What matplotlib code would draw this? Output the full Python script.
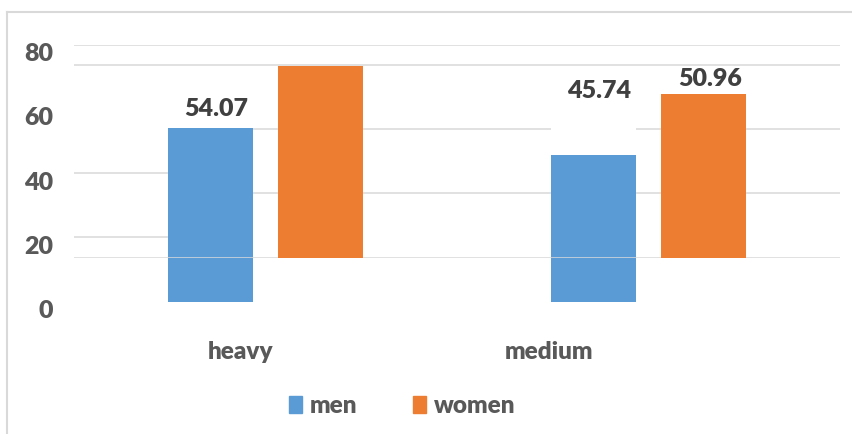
import matplotlib
matplotlib.use("Agg")
import matplotlib.pyplot as plt
import matplotlib.transforms as mtransforms
from matplotlib.lines import Line2D
from matplotlib.patches import Patch

categories = ["heavy", "medium"]
men = [54.07, 45.74]
women = [59.65, 50.96]
men_labels = ["54.07", "45.74"]
women_labels = [None, "50.96"]
yticks = [0, 20, 40, 60, 80]

BLUE = "#5B9BD5"
ORANGE = "#ED7D31"
GRID = "#D9D9D9"
TICK_C = "#595959"
LABEL_C = "#404040"
WEIGHT = "heavy"

plt.rcParams["font.family"] = ["Lato", "DejaVu Sans"]
plt.rcParams["font.weight"] = WEIGHT

W, H = 853, 434
fig = plt.figure(figsize=(W / 100, H / 100), dpi=100)


def box(left, top, right, bottom):
    # pixel box -> figure fraction rect
    return [left / W, 1 - bottom / H, (right - left) / W, (bottom - top) / H]


# outer chart frame (left and top edges only)
fig.add_artist(Line2D([7.5 / W, 7.5 / W], [0, 1 - 12 / H], color=GRID, lw=1.5,
                      transform=fig.transFigure))
fig.add_artist(Line2D([7.5 / W, 1], [1 - 12 / H, 1 - 12 / H], color=GRID, lw=1.5,
                      transform=fig.transFigure))

ax_m = fig.add_axes(box(74, 44.7, 840, 301.7))
ax_w = fig.add_axes(box(74, 0.5, 840, 257.5))
ax_w.patch.set_visible(False)

x = range(len(categories))
bw = 0.2245
off = 0.1436

for ax in (ax_m, ax_w):
    ax.set_xlim(-0.5, 1.5)
    ax.set_ylim(0, 80)
    for s in ax.spines.values():
        s.set_visible(False)
    ax.tick_params(length=0)
    ax.set_xticks([])

bars_m = ax_m.bar([i - off for i in x], men, width=bw, color=BLUE, zorder=2)
bars_w = ax_w.bar([i + off for i in x], women, width=bw, color=ORANGE, zorder=2)

# gridlines
left_edges = [b.get_x() for b in bars_m]
right_edges = [b.get_x() + b.get_width() for b in bars_m]
ax_m.axhline(80, color=GRID, lw=1.1, zorder=0)
ax_m.hlines([20, 40], -0.5, left_edges[0], color=GRID, lw=1.1, zorder=0)
ax_w.axhline(0, color=GRID, lw=1.1, zorder=1)
ax_w.axhline(60, color=GRID, lw=1.1, zorder=1)
ax_w.hlines([20, 40], right_edges[0], left_edges[1], color=GRID, lw=1.1, zorder=1)
ax_w.hlines([20, 40], right_edges[1], 1.5, color=GRID, lw=1.1, zorder=1)

# y axis labels
ax_m.set_yticks(yticks)
ax_m.set_yticklabels([str(t) for t in yticks], fontsize=18, color=TICK_C,
                     fontweight=WEIGHT)
ax_m.tick_params(axis="y", pad=15)
shift = mtransforms.ScaledTranslation(0, -7.5 / 100, fig.dpi_scale_trans)
for lbl in ax_m.get_yticklabels():
    lbl.set_transform(lbl.get_transform() + shift)
ax_w.set_yticks([])

# value labels
men_offsets = [6, 38]
for b, txt, dy in zip(bars_m, men_labels, men_offsets):
    if txt:
        ax_m.annotate(txt, (b.get_x() + b.get_width() / 2, b.get_height()),
                      xytext=(4, dy), textcoords="offset points", ha="center",
                      va="bottom", fontsize=18, color=LABEL_C, fontweight=WEIGHT)
for b, txt in zip(bars_w, women_labels):
    if txt:
        ax_w.annotate(txt, (b.get_x() + b.get_width() / 2, b.get_height()),
                      xytext=(5, 3), textcoords="offset points", ha="center",
                      va="bottom", fontsize=18, color=LABEL_C, fontweight=WEIGHT)

# category labels
ax_c = fig.add_axes(box(87, 350, 703, 359))
ax_c.set_xlim(-0.5, 1.5)
ax_c.set_ylim(0, 1)
ax_c.axis("off")
for i, c in enumerate(categories):
    ax_c.text(i, 0, c, ha="center", va="baseline", fontsize=17.5, color=TICK_C,
              fontweight=WEIGHT)

# legend
handles = [Patch(color=BLUE, label="men"), Patch(color=ORANGE, label="women")]
leg = fig.legend(handles=handles, loc="center", bbox_to_anchor=(402 / W, 1 - 406 / H),
                 ncol=2, frameon=False, fontsize=17.5, handlelength=0.55,
                 handleheight=0.75, handletextpad=0.3, columnspacing=2.3,
                 labelcolor=TICK_C)
for t in leg.get_texts():
    t.set_fontweight(WEIGHT)

fig.savefig("out.png", dpi=100, facecolor="white")
